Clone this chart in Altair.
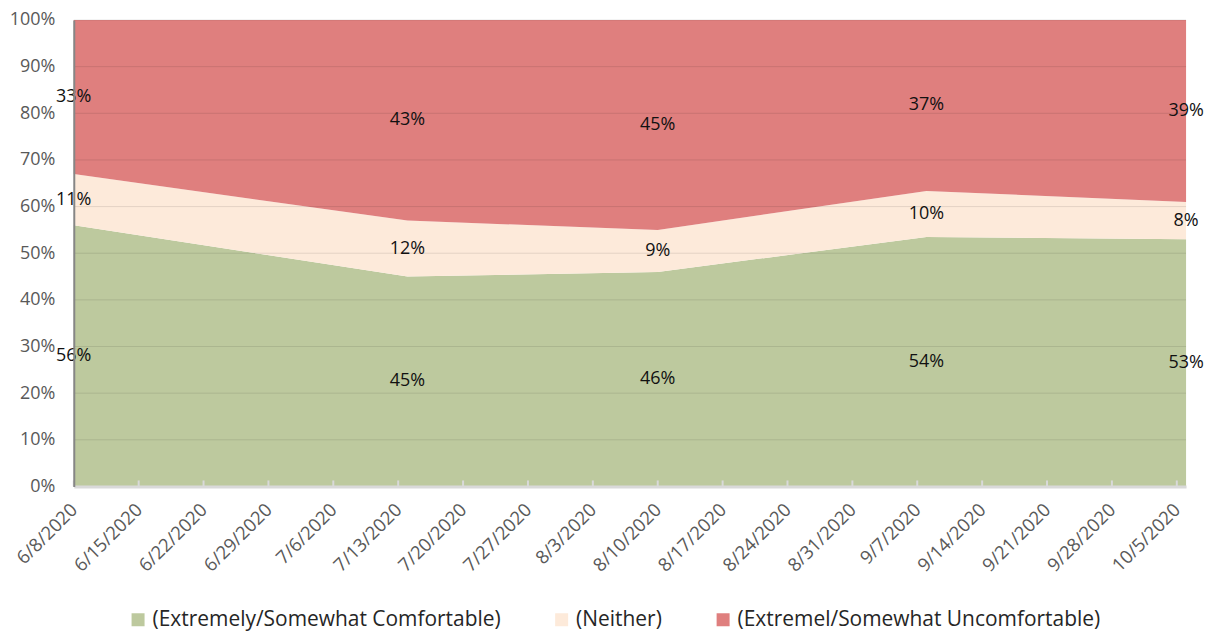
import altair as alt
import pandas as pd

# ---- data ----
dates = ["2020-06-08", "2020-07-14", "2020-08-10", "2020-09-08", "2020-10-06"]
comfortable = [56, 45, 46, 54, 53]
neither = [11, 12, 9, 10, 8]
uncomfortable = [33, 43, 45, 37, 39]
categories = ["(Extremely/Somewhat Comfortable)", "(Neither)", "(Extremel/Somewhat Uncomfortable)"]
colors = ["#BDC99E", "#FDEADA", "#DF7F7E"]
tick_labels = ["6/8/2020", "6/15/2020", "6/22/2020", "6/29/2020", "7/6/2020", "7/13/2020",
               "7/20/2020", "7/27/2020", "8/3/2020", "8/10/2020", "8/17/2020", "8/24/2020",
               "8/31/2020", "9/7/2020", "9/14/2020", "9/21/2020", "9/28/2020", "10/5/2020"]
y_ticks = [0, 0.1, 0.2, 0.3, 0.4, 0.5, 0.6, 0.7, 0.8, 0.9, 1.0]

start = pd.Timestamp(dates[0])
series = [comfortable, neither, uncomfortable]
rows = []
for i, d in enumerate(dates):
    day = (pd.Timestamp(d) - start).days
    for k, (cat, vals) in enumerate(zip(categories, series)):
        rows.append({"day": day, "cat": cat, "k": k, "v": vals[i], "label": f"{vals[i]}%"})
df = pd.DataFrame(rows)

tick_days = [(pd.to_datetime(t, format="%m/%d/%Y") - start).days for t in tick_labels]
end_day = (pd.Timestamp(dates[-1]) - start).days
label_expr = "[" + ",".join(f"'{t}'" for t in tick_labels) + "][round(datum.value/7)]"

FONT = "Open Sans"

base = alt.Chart(df).transform_stack(
    stack="v", groupby=["day"], sort=[alt.SortField("k", order="ascending")],
    as_=["y0", "y1"], offset="normalize"
).transform_calculate(mid="(datum.y0 + datum.y1) / 2")

xscale = alt.Scale(domain=[0, end_day], nice=False, zero=False)
yscale = alt.Scale(domain=[0, 1], nice=False)

area = base.mark_area(opacity=1).encode(
    x=alt.X("day:Q", scale=xscale, axis=alt.Axis(
        values=tick_days, labelExpr=label_expr, title=None, ticks=False, grid=False,
        labelAngle=-45, labelAlign="right", labelBaseline="middle", labelPadding=20,
        labelOverlap=False, labelFontSize=18.5, labelFont=FONT, labelColor="#595959",
        domainColor="#D9D9D9", domainWidth=3, zindex=1)),
    y=alt.Y("y1:Q", scale=yscale, axis=alt.Axis(
        values=y_ticks, format=".0%", title=None, ticks=False, grid=False,
        labelPadding=19, labelFontSize=18, labelFont=FONT, labelColor="#595959",
        domainColor="#868686", domainWidth=2, zindex=1)),
    y2="y0:Q",
    color=alt.Color("cat:N", scale=alt.Scale(domain=categories, range=colors),
                    legend=alt.Legend(orient="none", legendX=54, legendY=591,
                                      direction="horizontal", title=None,
                                      symbolType="square", symbolSize=170,
                                      symbolStrokeWidth=0, symbolOpacity=1,
                                      labelFontSize=21, labelFont=FONT, labelLimit=0,
                                      labelColor="#262626", columnPadding=50,
                                      labelOffset=4)),
    order=alt.Order("k:Q"),
)

grid = alt.Chart(pd.DataFrame({"g": y_ticks[1:]})).mark_rule(
    color="black", opacity=0.1, strokeWidth=1
).encode(y=alt.Y("g:Q", scale=yscale))

ticks = alt.Chart(pd.DataFrame({"day": tick_days})).mark_rule(
    color="#D9D9D9", strokeWidth=2
).encode(x=alt.X("day:Q", scale=xscale), y=alt.value(462), y2=alt.value(468))

text = base.mark_text(fontSize=18, font=FONT, color="#111111", baseline="middle").encode(
    x=alt.X("day:Q", scale=xscale),
    y=alt.Y("mid:Q", scale=yscale),
    text="label:N",
)

chart = alt.layer(area, grid, ticks, text).properties(
    width=1116, height=468,
    padding={"left": 66, "top": 11, "right": 18, "bottom": 149},
    autosize=alt.AutoSizeParams(type="none"),
).configure_view(strokeWidth=0)

chart.save("out.html", embed_options={"renderer": "svg", "actions": False})
